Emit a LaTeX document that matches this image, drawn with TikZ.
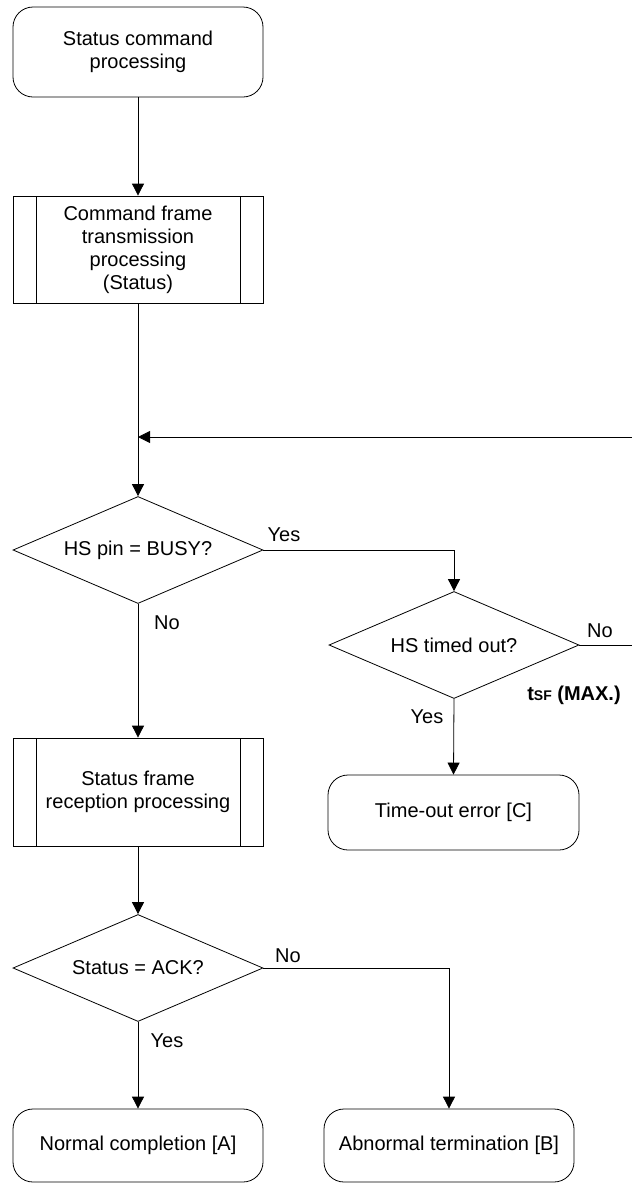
\documentclass[tikz,border=0pt]{standalone}
\usepackage{fontspec}
\setmainfont{Liberation Sans}
\usetikzlibrary{shapes.geometric,arrows.meta}
\tikzset{
  base/.style={draw=black, line width=0.8pt, align=center, inner sep=0pt,
    font=\fontsize{20}{23}\selectfont},
  term/.style={base, rectangle, rounded corners=20pt, minimum width=250pt},
  proc/.style={base, rectangle, minimum width=250pt,
    path picture={
      \draw[line width=0.8pt] ([xshift=23pt]path picture bounding box.north west) -- ([xshift=23pt]path picture bounding box.south west);
      \draw[line width=0.8pt] ([xshift=-23pt]path picture bounding box.north east) -- ([xshift=-23pt]path picture bounding box.south east);
    }},
  decide/.style={base, diamond, shape aspect=2.3, minimum width=250pt, minimum height=107pt},
  conn/.style={draw=black, line width=0.8pt},
  arr/.style={conn, -{Triangle[length=12pt,width=12pt]}},
  lbl/.style={font=\fontsize{20}{23}\selectfont, inner sep=0pt},
}
\begin{document}
\begin{tikzpicture}[x=1pt,y=-1pt]
\useasboundingbox (0,0) rectangle (632,1184);
\node[term, minimum height=90pt] (start) at (138,52) {Status command\\processing};
\node[proc, minimum height=107pt] (p1) at (138,249.5) {Command frame\\transmission\\processing\\(Status)};
\node[decide] (d1) at (138,550) {HS pin = BUSY?};
\node[decide] (d2) at (454,645) {HS timed out?};
\node[term, minimum width=251pt, minimum height=75pt] (tout) at (453.5,812.5) {Time-out error [C]};
\node[proc, minimum height=108pt] (p2) at (138,792) {Status frame\\reception processing};
\node[decide] (d3) at (138,968) {Status = ACK?};
\node[term, minimum height=73pt] (na) at (138,1145.5) {Normal completion [A]};
\node[term, minimum height=73pt] (nb) at (449,1145.5) {Abnormal termination [B]};

\coordinate (m) at (138,437);
\coordinate (r1) at (640,645);
\coordinate (r2) at (640,437);

\draw[arr] (start.south) -- (p1.north);
\draw[arr] (p1.south) -- (d1.north);
\draw[arr] (d1.east) -| (d2.north);
\draw[conn] (d2.east) -- (r1) -- (r2);
\draw[arr] (r2) -- (m);
\draw[arr] (d2.south) -- (tout.north);
\draw[arr] (d1.south) -- (p2.north);
\draw[arr] (p2.south) -- (d3.north);
\draw[arr] (d3.south) -- (na.north);
\draw[arr] (d3.east) -| (nb.north);

\node[lbl] (l1) at (284,535) {Yes};
\node[lbl] (l2) at (167,623) {No};
\node[lbl] (l3) at (600,631) {No};
\node[lbl, font=\fontsize{20}{23}\selectfont\bfseries] (l4) at (574,695) {t{\fontsize{14}{14}\selectfont SF} (MAX.)};
\node[lbl] (l5) at (427,717) {Yes};
\node[lbl] (l6) at (288,956) {No};
\node[lbl] (l7) at (167,1041) {Yes};
\end{tikzpicture}
\end{document}
